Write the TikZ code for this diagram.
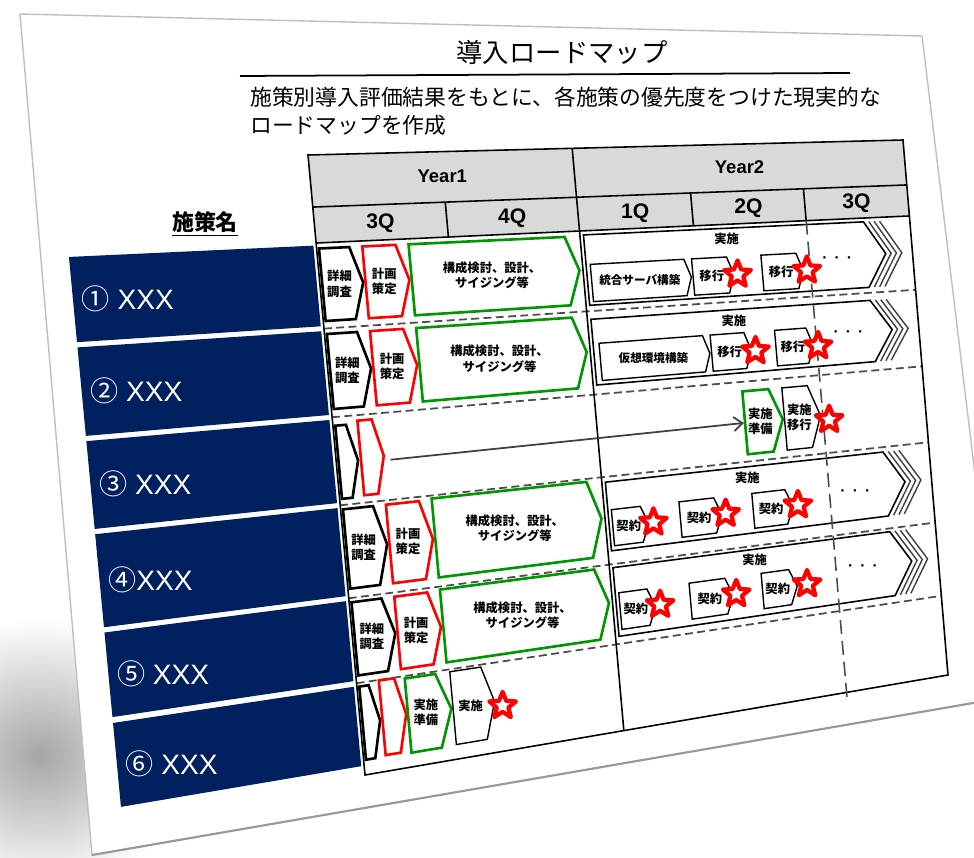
\documentclass[tikz,border=0pt]{standalone}
\usepackage{fontspec}
\setmainfont{Liberation Sans}
\newfontfamily\cjk{Noto Sans CJK JP}
\usetikzlibrary{shapes.geometric,arrows.meta,fadings}
\definecolor{navyc}{RGB}{0,32,96}
\definecolor{hdrc}{RGB}{217,217,217}
\definecolor{grnc}{RGB}{0,150,0}
\definecolor{redc}{RGB}{255,0,0}
\tikzfading[name=softfade, inner color=transparent!0, outer color=transparent!100]
\pgfkeys{/qcs/.cd,u/.store in=\qcsu,v/.store in=\qcsv}
\tikzdeclarecoordinatesystem{q}{%
  \pgfkeys{/qcs/.cd,#1}%
  \pgfmathsetmacro\qcsU{\qcsu}%
  \pgfmathsetmacro\qcsV{\qcsv}%
  \pgfmathsetmacro\qcsX{308+595*\qcsU+57*\qcsV-12*\qcsU*\qcsV}%
  \pgfmathsetmacro\qcsY{155-15*\qcsU+620*\qcsV-85*\qcsU*\qcsV}%
  \pgfpointxy{\qcsX}{\qcsY}%
}
% pentagon: name, style, u0, utip, v0, v1, depth, text
\newcommand\pent[8]{%
  \pgfmathsetmacro\pA{#4-#7}%
  \pgfmathsetmacro\pM{(#5+#6)/2}%
  \pgfmathsetmacro\pC{(#3+\pA)/2+#7*0.2}%
  \draw[#2] (q cs:u=#3,v=#5) -- (q cs:u=\pA,v=#5) -- (q cs:u=#4,v=\pM) -- (q cs:u=\pA,v=#6) -- (q cs:u=#3,v=#6) -- cycle;
  \node[lbl] (#1) at (q cs:u=\pC,v=\pM) {#8};
}
% big chevron: name, v0, v1
\newcommand\bigchev[3]{%
  \pgfmathsetmacro\bM{(#2+#3)/2}%
  \pgfmathsetmacro\bL{#2+0.019}%
  \draw[sbig] (q cs:u=0.450,v=#2) -- (q cs:u=0.922,v=#2) -- (q cs:u=0.955,v=\bM) -- (q cs:u=0.922,v=#3) -- (q cs:u=0.450,v=#3) -- cycle;
  \foreach \k in {1,2,3}{%
    \pgfmathsetmacro\bA{0.922+0.009*\k}%
    \pgfmathsetmacro\bB{0.955+0.009*\k}%
    \draw[sbigs] (q cs:u=\bA,v=#2) -- (q cs:u=\bB,v=\bM) -- (q cs:u=\bA,v=#3);
  }%
  \node[lbl] (#1) at (q cs:u=0.69,v=\bL) {実施};
}
\newcommand\navybox[4]{%
  \pgfmathsetmacro\nM{(#2+#3)/2}%
  \fill[navyc] (q cs:u=-0.417,v=#2) -- (q cs:u=-0.005,v=#2) -- (q cs:u=-0.005,v=#3) -- (q cs:u=-0.417,v=#3) -- cycle;
  \node[navyt] (#1) at (q cs:u=-0.403,v=\nM) {#4};
}
\newcommand\redstar[3]{\node[sstar] (#1) at (q cs:u=#2,v=#3) {};}
\newcommand\dotlbl[3]{\node[dotl] (#1) at (q cs:u=#2,v=#3) {・・・};}
\begin{document}
\begin{tikzpicture}[x=0.02cm,y=-0.02cm,
  lbl/.style={font=\cjk\bfseries\fontsize{7}{8.6}\selectfont,align=center,inner sep=0pt},
  dotl/.style={font=\cjk\fontsize{7}{8.6}\selectfont,inner sep=0pt},
  sblk/.style={draw=black,fill=white,line width=1.5pt},
  sred/.style={draw=redc,fill=white,line width=1.5pt},
  sgrn/.style={draw=grnc,fill=white,line width=1.5pt},
  swht/.style={draw=black,fill=white,line width=0.8pt},
  sbig/.style={draw=black,line width=0.9pt},
  sbigs/.style={draw=black!75,line width=0.8pt},
  sgrid/.style={draw=black,line width=0.9pt},
  srow/.style={draw=black!70,line width=1pt,dash pattern=on 4.5pt off 2.5pt},
  scol/.style={draw=black!70,line width=0.9pt,dash pattern=on 8pt off 4pt},
  sstar/.style={star,star points=5,star point ratio=2.3,draw=redc,fill=white,line width=2.4pt,line join=round,minimum size=0.56cm,inner sep=0pt},
  navyt/.style={anchor=west,text=white,font=\fontsize{16}{18}\selectfont,inner sep=0pt},
  yr/.style={font=\bfseries\fontsize{10.5}{12}\selectfont},
  qt/.style={font=\bfseries\fontsize{12}{14}\selectfont},
  sarrow/.style={draw=black!75,line width=1pt,-{Straight Barb[length=5pt,width=8pt]}},
]
\useasboundingbox (0,0) rectangle (974,858);
\clip (0,0) rectangle (974,858);
\fill[white] (0,0) rectangle (974,858);
% shadow and slide
\fill[black!35,path fading=softfade] (40,755) ellipse [x radius=150,y radius=135];
\filldraw[fill=white,draw=black!25,line width=0.8pt] (20,14) -- (922,36) -- (1002,698) -- (92,855) -- cycle;
\draw[black!40,line width=1.2pt] (1002,698) -- (92,855);
% title
\node[font=\cjk\fontsize{15}{18}\selectfont] (title) at (562,52) {導入ロードマップ};
\draw[line width=1pt] (240,76) -- (850,73);
\node[anchor=west,font=\cjk\fontsize{12.4}{15}\selectfont,inner sep=0pt] (sub1) at (250,97) {施策別導入評価結果をもとに、各施策の優先度をつけた現実的な};
\node[anchor=west,font=\cjk\fontsize{12.4}{15}\selectfont,inner sep=0pt] (sub2) at (250,125) {ロードマップを作成};
\node[font=\cjk\bfseries\fontsize{12.5}{15}\selectfont] (hd) at (205,224) {\underline{施策名}};
% navy boxes
\navybox{n1}{0.146}{0.276}{{\cjk ①} XXX}
\navybox{n2}{0.284}{0.419}{{\cjk ②} XXX}
\navybox{n3}{0.427}{0.561}{{\cjk ③} XXX}
\navybox{n4}{0.569}{0.711}{{\cjk ④}XXX}
\navybox{n5}{0.719}{0.848}{{\cjk ⑤} XXX}
\navybox{n6}{0.857}{0.985}{{\cjk ⑥} XXX}
% table header
\fill[hdrc] (q cs:u=0,v=0) -- (q cs:u=1,v=0) -- (q cs:u=1,v=0.142) -- (q cs:u=0,v=0.142) -- cycle;
\foreach \r in {0.28,0.423,0.565,0.715,0.852} \draw[srow] (q cs:u=0,v=\r) -- (q cs:u=1,v=\r);
\draw[sgrid] (q cs:u=0,v=0) -- (q cs:u=1,v=0) -- (q cs:u=1,v=1) -- (q cs:u=0,v=1) -- cycle;
\draw[sgrid] (q cs:u=0,v=0.084) -- (q cs:u=1,v=0.084);
\draw[sgrid] (q cs:u=0,v=0.142) -- (q cs:u=1,v=0.142);
\draw[sgrid] (q cs:u=0.444,v=0) -- (q cs:u=0.444,v=1);
\foreach \c in {0.223,0.636,0.826} \draw[sgrid] (q cs:u=\c,v=0.084) -- (q cs:u=\c,v=0.142);
\node[yr] (y1) at (q cs:u=0.222,v=0.041) {Year1};
\node[yr] (y2) at (q cs:u=0.722,v=0.041) {Year2};
\node[qt] (q1) at (q cs:u=0.111,v=0.115) {3Q};
\node[qt] (q2) at (q cs:u=0.333,v=0.115) {4Q};
\node[qt] (q3) at (q cs:u=0.540,v=0.115) {1Q};
\node[qt] (q4) at (q cs:u=0.731,v=0.115) {2Q};
\node[qt] (q5) at (q cs:u=0.913,v=0.115) {3Q};
% row 1
\pent{b1}{sblk}{0.004}{0.073}{0.151}{0.268}{0.018}{詳細\\調査}
\pent{r1}{sred}{0.077}{0.151}{0.151}{0.268}{0.018}{計画\\策定}
\pent{g1}{sgrn}{0.155}{0.438}{0.151}{0.268}{0.02}{構成検討、設計、\\サイジング等}
\bigchev{e1}{0.149}{0.270}
\pent{w11}{swht}{0.457}{0.625}{0.2}{0.264}{0.01}{{\fontsize{6.6}{8}\selectfont 統合サーバ構築}}
\pent{w12}{swht}{0.628}{0.697}{0.2}{0.264}{0.01}{移行}
\pent{w13}{swht}{0.745}{0.814}{0.2}{0.264}{0.01}{移行}
\dotlbl{d1}{0.872}{0.215}
% row 2
\pent{b2}{sblk}{0.004}{0.073}{0.289}{0.41}{0.018}{詳細\\調査}
\pent{r2}{sred}{0.077}{0.151}{0.289}{0.41}{0.018}{計画\\策定}
\pent{g2}{sgrn}{0.155}{0.438}{0.289}{0.41}{0.02}{構成検討、設計、\\サイジング等}
\bigchev{e2}{0.294}{0.407}
\pent{w21}{swht}{0.46}{0.645}{0.336}{0.4}{0.01}{{\fontsize{6.6}{8}\selectfont 仮想環境構築}}
\pent{w22}{swht}{0.648}{0.715}{0.336}{0.4}{0.01}{移行}
\pent{w23}{swht}{0.757}{0.82}{0.336}{0.4}{0.01}{移行}
\dotlbl{d2}{0.88}{0.352}
% row 3
\pent{b3}{sblk}{0.004}{0.037}{0.437}{0.555}{0.015}{}
\pent{r3}{sred}{0.042}{0.081}{0.432}{0.553}{0.015}{}
\pent{g3}{sgrn}{0.694}{0.758}{0.44}{0.552}{0.02}{実施\\準備}
\pent{w3}{swht}{0.761}{0.822}{0.44}{0.552}{0.018}{実施\\移行}
\coordinate (a3s) at (q cs:u=0.092,v=0.5);
\coordinate (a3e) at (q cs:u=0.692,v=0.496);
\draw[sarrow] (a3s) -- (a3e);
% row 4
\pent{b4}{sblk}{0.004}{0.073}{0.572}{0.700}{0.018}{詳細\\調査}
\pent{r4}{sred}{0.077}{0.151}{0.572}{0.700}{0.018}{計画\\策定}
\pent{g4}{sgrn}{0.155}{0.438}{0.570}{0.700}{0.02}{構成検討、設計、\\サイジング等}
\bigchev{e4}{0.574}{0.692}
\pent{w41}{swht}{0.456}{0.517}{0.622}{0.684}{0.012}{契約}
\pent{w42}{swht}{0.571}{0.642}{0.622}{0.684}{0.012}{契約}
\pent{w43}{swht}{0.695}{0.763}{0.622}{0.684}{0.012}{契約}
\dotlbl{d4}{0.869}{0.641}
% row 5
\pent{b5}{sblk}{0.004}{0.073}{0.722}{0.840}{0.018}{詳細\\調査}
\pent{r5}{sred}{0.077}{0.151}{0.722}{0.840}{0.018}{計画\\策定}
\pent{g5}{sgrn}{0.155}{0.438}{0.720}{0.840}{0.02}{構成検討、設計、\\サイジング等}
\bigchev{e5}{0.721}{0.839}
\pent{w51}{swht}{0.456}{0.516}{0.765}{0.828}{0.012}{契約}
\pent{w52}{swht}{0.576}{0.649}{0.765}{0.828}{0.012}{契約}
\pent{w53}{swht}{0.699}{0.758}{0.765}{0.828}{0.012}{契約}
\dotlbl{d5}{0.871}{0.78}
% row 6
\pent{b6}{sblk}{0.004}{0.034}{0.858}{0.976}{0.014}{}
\pent{r6}{sred}{0.038}{0.079}{0.853}{0.974}{0.015}{}
\pent{g6}{sgrn}{0.082}{0.156}{0.856}{0.977}{0.022}{実施\\準備}
\pent{w6}{swht}{0.159}{0.23}{0.856}{0.976}{0.018}{実施}
% dashed column
\draw[scol] (q cs:u=0.826,v=0.142) -- (q cs:u=0.826,v=1.012);
% stars
\redstar{s11}{0.703}{0.232}
\redstar{s12}{0.820}{0.232}
\redstar{s21}{0.722}{0.370}
\redstar{s22}{0.828}{0.370}
\redstar{s3}{0.836}{0.505}
\redstar{s41}{0.525}{0.652}
\redstar{s42}{0.648}{0.652}
\redstar{s43}{0.771}{0.652}
\redstar{s51}{0.524}{0.795}
\redstar{s52}{0.654}{0.795}
\redstar{s53}{0.775}{0.795}
\redstar{s6}{0.243}{0.925}
\end{tikzpicture}
\end{document}
